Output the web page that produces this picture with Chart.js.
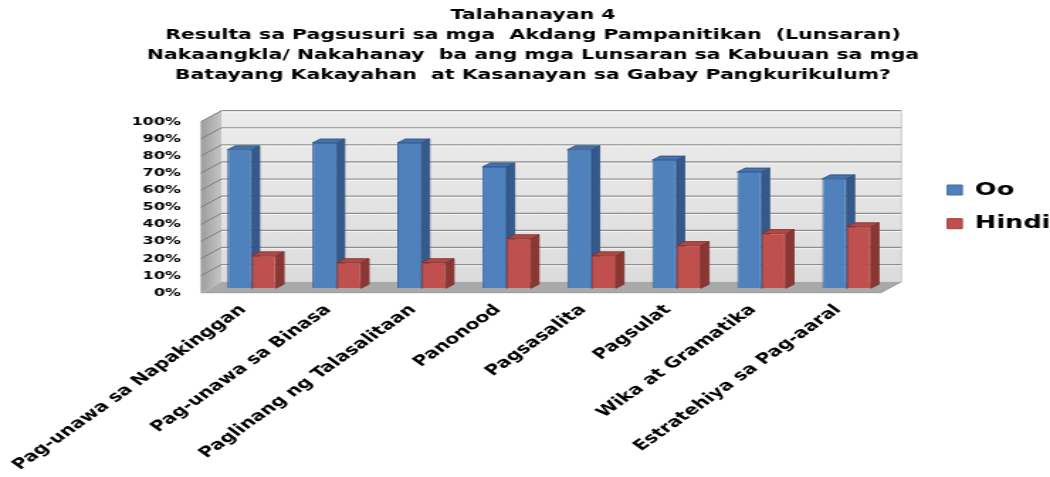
<!DOCTYPE html>
<html><head><meta charset="utf-8">
<script src="https://cdn.jsdelivr.net/npm/chart.js@4.4.0/dist/chart.umd.min.js"></script>
<style>
html,body{margin:0;padding:0;background:#fff;overflow:hidden;}
#wrap{width:740px;height:477px;transform:scaleX(1.418919);transform-origin:0 0;}
canvas{display:block;}
</style></head><body>
<div id="wrap"><canvas id="c" width="740" height="477"></canvas></div>
<script>
const titleLines = [
  'Talahanayan 4',
  'Resulta sa Pagsusuri sa mga  Akdang Pampanitikan  (Lunsaran)',
  'Nakaangkla/ Nakahanay  ba ang mga Lunsaran sa Kabuuan sa mga',
  'Batayang Kakayahan  at Kasanayan sa Gabay Pangkurikulum?'
];
const categories = [
  'Pag-unawa sa Napakinggan',
  'Pag-unawa sa Binasa',
  'Paglinang ng Talasalitaan',
  'Panonood',
  'Pagsasalita',
  'Pagsulat',
  'Wika at Gramatika',
  'Estratehiya sa Pag-aaral'
];
const seriesNames = ['Oo', 'Hindi'];
const ooValues = [81, 85, 85, 71, 81, 75, 68, 64];
const hindiValues = [19, 15, 15, 29, 19, 25, 32, 36];
const yTickValues = [0, 10, 20, 30, 40, 50, 60, 70, 80, 90, 100];

const FONT = "'DejaVu Sans', Verdana, sans-serif";
const W = 740, H = 477;
const PLOT_LEFT = 147.4, PLOT_RIGHT = 626.6, PLOT_TOP = 117.3, PLOT_BOTTOM = 288.3;
const LEG_FONT = 18, LEG_BOX = 10.5, LEG_PAD = 15.7;

const mctx = document.createElement('canvas').getContext('2d');
mctx.font = 'bold ' + LEG_FONT + 'px ' + FONT;
const legTextW = Math.max(...seriesNames.map(s => mctx.measureText(s).width));
const legendW = LEG_PAD + LEG_BOX + LEG_FONT / 2 + legTextW + 10;
const padRight = (W - PLOT_RIGHT) - legendW;
const padLeft = padRight + 11.2;

const DEPTH = {dx: 14.4, dy: 11};
const FRONT_FRAC = 0.4;
const BAR_D = {dx: 5.6, dy: 4};

const box3d = {
  id: 'box3d',
  afterLayout(chart) {
    const lg = chart.legend;
    if (lg) {
      const w = lg.width, h = lg.height;
      lg.left = 667.6 - LEG_PAD; lg.right = lg.left + w;
      lg.top = 190 - LEG_FONT / 2 - LEG_PAD; lg.bottom = lg.top + h;
    }
  },
  beforeDatasetsDraw(chart) {
    const {ctx, chartArea: ca, scales: {y}} = chart;
    const y0 = y.getPixelForValue(y.min), y1 = y.getPixelForValue(y.max);
    const fdx = FRONT_FRAC * DEPTH.dx, fdy = FRONT_FRAC * DEPTH.dy;
    const bdx = (1 - FRONT_FRAC) * DEPTH.dx, bdy = (1 - FRONT_FRAC) * DEPTH.dy;
    const fl = ca.left - fdx, fr = ca.right - fdx, fb = y0 + fdy, ft = y1 + fdy;
    const bl = ca.left + bdx, br = ca.right + bdx, bb = y0 - bdy, bt = y1 - bdy;
    ctx.save();
    let g = ctx.createLinearGradient(0, bt, 0, bb);
    g.addColorStop(0, '#ececec'); g.addColorStop(1, '#dcdcdc');
    ctx.fillStyle = g;
    ctx.fillRect(bl, bt, br - bl, bb - bt);
    ctx.strokeStyle = '#c9c9c9'; ctx.lineWidth = 1;
    ctx.beginPath(); ctx.moveTo(bl, bt); ctx.lineTo(br, bt); ctx.lineTo(br, bb); ctx.stroke();
    g = ctx.createLinearGradient(fl, 0, bl, 0);
    g.addColorStop(0, '#9c9c9c'); g.addColorStop(1, '#c6c6c6');
    ctx.fillStyle = g;
    ctx.beginPath(); ctx.moveTo(fl, ft); ctx.lineTo(bl, bt); ctx.lineTo(bl, bb); ctx.lineTo(fl, fb); ctx.closePath(); ctx.fill();
    ctx.strokeStyle = '#bdbdbd';
    ctx.beginPath(); ctx.moveTo(fl, fb); ctx.lineTo(fl, ft); ctx.lineTo(bl, bt); ctx.stroke();
    y.ticks.forEach(t => {
      if (t.value === y.min) return;
      const py = y.getPixelForValue(t.value);
      const yb = py - bdy, yf = py + fdy;
      ctx.strokeStyle = '#8e8e8e'; ctx.lineWidth = 1.3;
      ctx.beginPath(); ctx.moveTo(bl, yb); ctx.lineTo(br, yb); ctx.stroke();
      ctx.strokeStyle = '#f6f6f6'; ctx.lineWidth = 1;
      ctx.beginPath(); ctx.moveTo(bl, yb + 1.2); ctx.lineTo(br, yb + 1.2); ctx.stroke();
      ctx.strokeStyle = '#7a7a7a'; ctx.lineWidth = 1;
      ctx.beginPath(); ctx.moveTo(fl, yf); ctx.lineTo(bl, yb); ctx.stroke();
    });
    ctx.fillStyle = '#a9a9a9';
    ctx.beginPath(); ctx.moveTo(fl, fb); ctx.lineTo(fr, fb); ctx.lineTo(br, bb); ctx.lineTo(bl, bb); ctx.closePath(); ctx.fill();
    ctx.strokeStyle = '#9a9a9a'; ctx.lineWidth = 1;
    ctx.beginPath(); ctx.moveTo(fl, fb); ctx.lineTo(fr, fb); ctx.lineTo(br, bb); ctx.stroke();
    const sideCols = ['#35598a', '#8a3734'];
    const topCols = ['#4372ad', '#b24744'];
    const edgeCols = ['#2d4f7c', '#7a2f2d'];
    const metas = chart.getSortedVisibleDatasetMetas();
    const n = chart.data.labels.length;
    for (let i = 0; i < n; i++) {
      metas.forEach(meta => {
        const el = meta.data[i];
        if (!el) return;
        const p = el.getProps(['x', 'y', 'base', 'width'], true);
        const L = p.x - p.width / 2, R = p.x + p.width / 2, T = p.y, B = p.base;
        const di = meta.index;
        ctx.lineWidth = 0.8; ctx.strokeStyle = edgeCols[di];
        ctx.fillStyle = sideCols[di];
        ctx.beginPath(); ctx.moveTo(R, T); ctx.lineTo(R + BAR_D.dx, T - BAR_D.dy); ctx.lineTo(R + BAR_D.dx, B - BAR_D.dy); ctx.lineTo(R, B); ctx.closePath(); ctx.fill(); ctx.stroke();
        ctx.fillStyle = topCols[di];
        ctx.beginPath(); ctx.moveTo(L, T); ctx.lineTo(R, T); ctx.lineTo(R + BAR_D.dx, T - BAR_D.dy); ctx.lineTo(L + BAR_D.dx, T - BAR_D.dy); ctx.closePath(); ctx.fill(); ctx.stroke();
      });
    }
    ctx.restore();
  }
};

new Chart(document.getElementById('c'), {
  type: 'bar',
  data: {
    labels: categories,
    datasets: [
      {label: seriesNames[0], data: ooValues, backgroundColor: '#4f81bd', borderColor: '#3d6ba3', borderWidth: 1},
      {label: seriesNames[1], data: hindiValues, backgroundColor: '#c0504d', borderColor: '#a03f3c', borderWidth: 1}
    ]
  },
  options: {
    responsive: false,
    animation: false,
    devicePixelRatio: 1,
    datasets: {bar: {categoryPercentage: 0.573, barPercentage: 1.0}},
    layout: {padding: {left: padLeft, right: padRight, top: 0, bottom: 0}},
    scales: {
      x: {
        grid: {display: false, drawTicks: false},
        border: {display: false},
        ticks: {
          autoSkip: false, minRotation: 45, maxRotation: 45, padding: 13, labelOffset: -6,
          color: '#000', font: {family: FONT, size: 14.5, weight: 'bold'}
        },
        afterFit(s) { s.height = H - PLOT_BOTTOM; s.paddingLeft = 0; s.paddingRight = 0; }
      },
      y: {
        min: 0, max: 100,
        afterBuildTicks(s) { s.ticks = yTickValues.map(v => ({value: v})); },
        grid: {display: false, drawTicks: false},
        border: {display: false},
        ticks: {
          padding: 20, labelOffset: 4.5,
          color: '#000', font: {family: FONT, size: 11.2, weight: 'bold'},
          callback: v => v + '%'
        },
        afterFit(s) { s.width = PLOT_LEFT - padLeft; }
      }
    },
    plugins: {
      title: {
        display: true, text: titleLines, color: '#000',
        font: {family: FONT, size: 14.4, weight: 'bold', lineHeight: '20px'},
        padding: {top: 5, bottom: PLOT_TOP - 85}
      },
      legend: {
        position: 'right', align: 'start',
        labels: {
          boxWidth: LEG_BOX, boxHeight: 10, padding: LEG_PAD, color: '#000',
          font: {family: FONT, size: LEG_FONT, weight: 'bold'}
        }
      },
      tooltip: {enabled: false}
    }
  },
  plugins: [box3d]
});
</script>
</body></html>
